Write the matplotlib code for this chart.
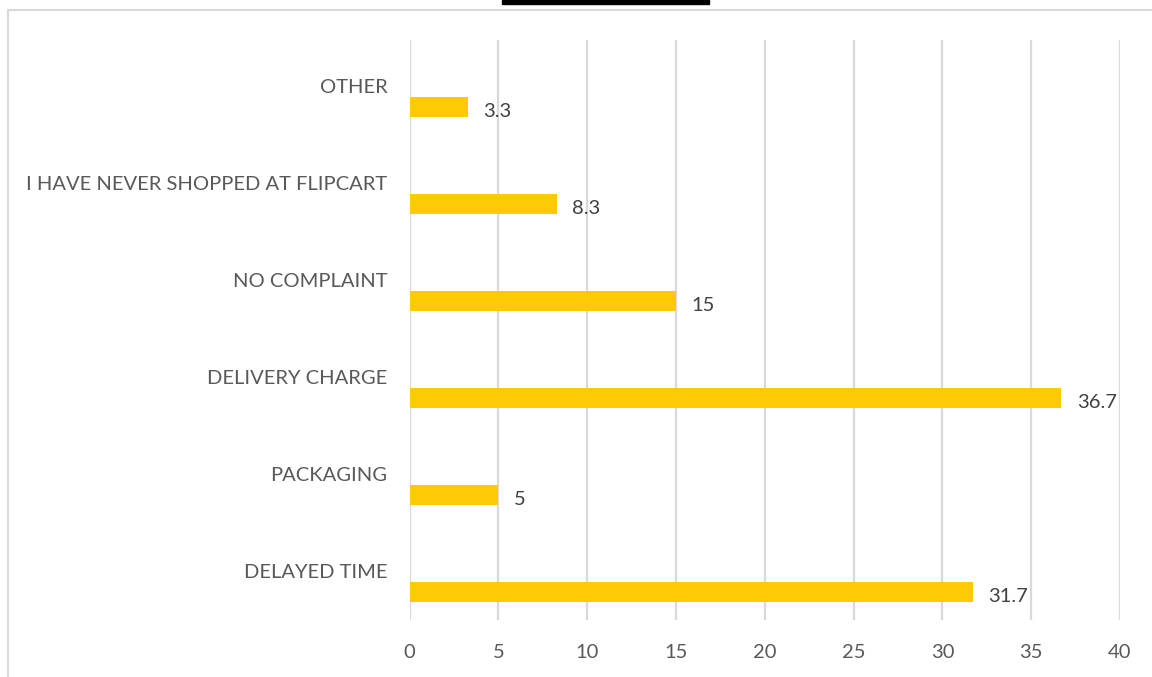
import matplotlib
matplotlib.use("Agg")
import matplotlib.pyplot as plt
from matplotlib.lines import Line2D
from matplotlib.patches import Rectangle

categories = ["DELAYED TIME", "PACKAGING", "DELIVERY CHARGE", "NO COMPLAINT",
              "I HAVE NEVER SHOPPED AT FLIPCART", "OTHER"]
values = [31.7, 5, 36.7, 15, 8.3, 3.3]
value_labels = ["31.7", "5", "36.7", "15", "8.3", "3.3"]
xticks = [0, 5, 10, 15, 20, 25, 30, 35, 40]

BAR = "#FFC906"
GRID = "#D9D9D9"
TXT = "#595959"
VAL = "#404040"

plt.rcParams["font.family"] = ["Lato", "DejaVu Sans"]

fig = plt.figure(figsize=(11.52, 6.77), dpi=100)
ax = fig.add_axes([409.5 / 1152, 57 / 677, (1120 - 409.5) / 1152, 580 / 677])

ypos = list(range(len(categories)))
ax.barh(ypos, values, height=0.21, color=BAR, zorder=3)

ax.set_xlim(0, 40)
ax.set_ylim(-0.29, 5.69)
ax.set_xticks(xticks)
ax.set_xticklabels([str(t) for t in xticks], fontsize=14.5, color=TXT)
ax.tick_params(axis="x", length=0, pad=17)
ax.set_yticks([])
ax.grid(axis="x", color=GRID, lw=1.6, zorder=0)
for s in ax.spines.values():
    s.set_visible(False)

# category names sit above each bar, value labels just past the bar end
for y, name, v, lab in zip(ypos, categories, values, value_labels):
    ax.annotate(name, (0, y), xytext=(-16, 14), textcoords="offset points",
                ha="right", va="center", fontsize=14.5, color=TXT)
    ax.annotate(lab, (v, y), xytext=(11, -3), textcoords="offset points",
                ha="left", va="center", fontsize=14.5, color=VAL)

# outer frame (left and top only) and dark tab at the top
fig.add_artist(Line2D([7.5 / 1152, 7.5 / 1152], [0, 1 - 10 / 677],
                      transform=fig.transFigure, color="#D9D9D9", lw=1.5))
fig.add_artist(Line2D([7.5 / 1152, 1], [1 - 10 / 677, 1 - 10 / 677],
                      transform=fig.transFigure, color="#D9D9D9", lw=1.5))
fig.add_artist(Rectangle((502 / 1152, 1 - 4 / 677), 207 / 1152, 4 / 677,
                         transform=fig.transFigure, color="black"))

fig.savefig("out.png", dpi=100)
